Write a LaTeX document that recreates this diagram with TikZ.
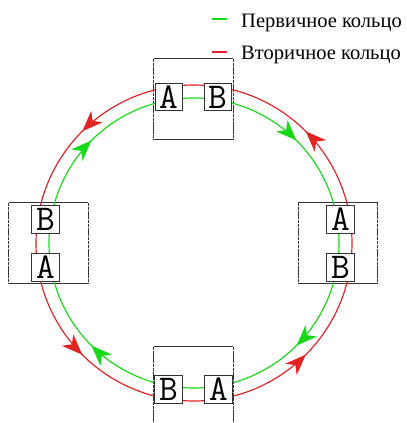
\documentclass[tikz,border=0pt]{standalone}
\usepackage{fontspec}
\setmainfont{Liberation Serif}
\usetikzlibrary{arrows.meta,decorations.markings}
\definecolor{primgreen}{RGB}{25,215,25}
\definecolor{secred}{RGB}{225,35,35}
\tikzset{
  frame/.style={minimum width=2.37cm, minimum height=2.40cm, inner sep=0pt},
  frameh/.style={line width=0.8pt, black!80},
  framev/.style={line width=0.8pt, black!80, dash pattern=on 3pt off 0.6pt},
  port/.style={draw=black!80, line width=0.9pt, fill=white, minimum size=0.82cm,
    inner sep=0pt, font=\ttfamily\fontsize{31}{31}\selectfont},
  legend/.style={inner sep=0pt, anchor=base west, font=\fontsize{17.5}{20}\selectfont},
  primary/.style={primgreen, line width=1pt},
  secondary/.style={secred, line width=1pt},
  midarrow/.style={postaction={decorate, decoration={markings,
    mark=at position 0.5 with {\arrow{Stealth[length=0.62cm, width=0.48cm, inset=0.18cm]}}}}}
}
\begin{document}
\begin{tikzpicture}[x=0.03cm, y=-0.03cm]
    \useasboundingbox (0,0) rectangle (406,423);%
    \clip (0,0) rectangle (406,423);%
    \coordinate (ctr) at (194,243);%

    % Station frames
    \node[frame] (fTop) at (193.5,99) {};%
    \node[frame] (fLeft) at (48.5,243) {};%
    \node[frame] (fRight) at (338,243) {};%
    \node[frame] (fBot) at (193.5,387) {};%
    \foreach \f in {fTop,fLeft,fRight,fBot} {
        \draw[frameh] (\f.north west) -- (\f.north east) (\f.south west) -- (\f.south east);%
        \draw[framev] (\f.north west) -- (\f.south west) (\f.north east) -- (\f.south east);%
    }

    % Secondary ring, counter-clockwise
    \foreach \a in {0,-90,-180,-270}
        \draw[secondary, midarrow] (ctr) ++(\a:158) arc[start angle=\a, delta angle=-90, radius=158];%

    % Primary ring, clockwise
    \foreach \a in {-90,0,90,180}
        \draw[primary, midarrow] (ctr) ++(\a:145) arc[start angle=\a, delta angle=90, radius=145];%

    % Ports A and B of each station
    \node[port] (topA) at (169,97) {A};%
    \node[port] (topB) at (218,97) {B};%
    \node[port] (leftB) at (45.5,219.5) {B};%
    \node[port] (leftA) at (45.5,267.5) {A};%
    \node[port] (rightA) at (340.5,219.5) {A};%
    \node[port] (rightB) at (340.5,267.5) {B};%
    \node[port] (botB) at (168.5,389.5) {B};%
    \node[port] (botA) at (218.5,389.5) {A};%

    % Legend
    \node[legend] (lgPrim) at (241,27.3) {Первичное кольцо};%
    \node[legend] (lgSec) at (241,59.3) {Вторичное кольцо};%
    \coordinate (lgPrimEnd) at (212,19);%
    \coordinate (lgSecEnd) at (212,52);%
    \draw[primary] (lgPrimEnd) -- ++(15,0);%
    \draw[secondary] (lgSecEnd) -- ++(15,0);%
\end{tikzpicture}
\end{document}
